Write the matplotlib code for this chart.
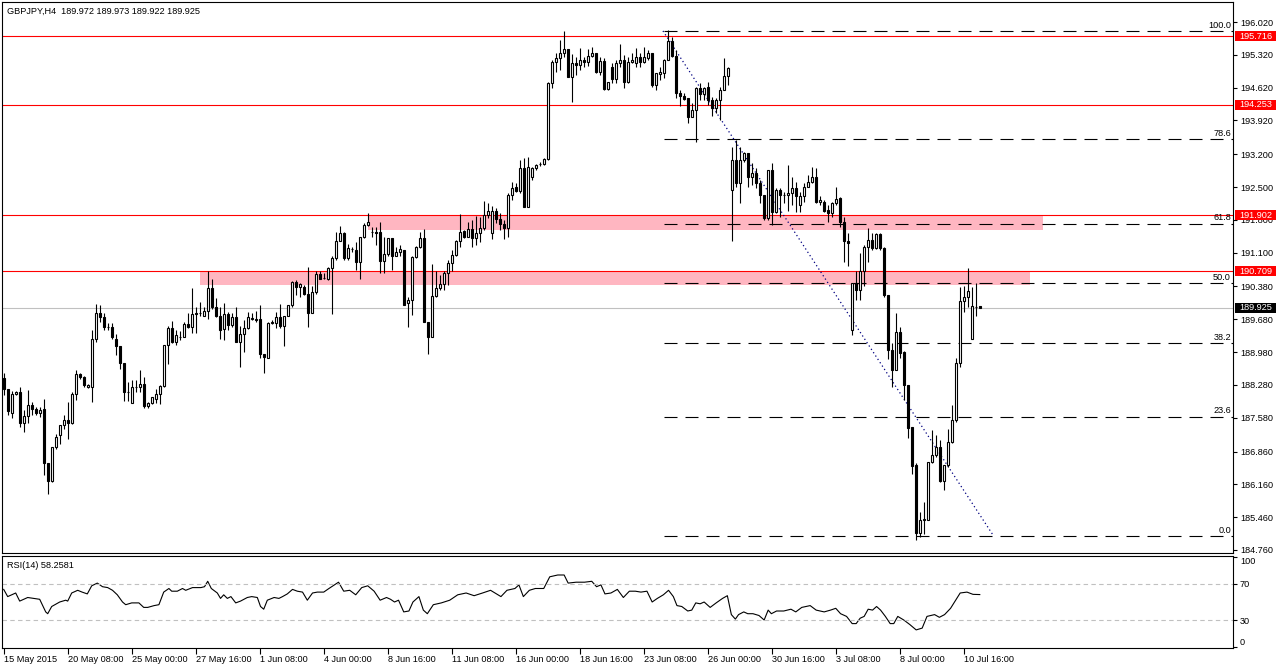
import numpy as np
import matplotlib
matplotlib.use("Agg")
import matplotlib.pyplot as plt
from matplotlib.patches import Rectangle

plt.rcParams['font.family'] = ['Liberation Sans', 'DejaVu Sans']
plt.rcParams['axes.linewidth'] = 0.8

# GBPJPY H4 candles (bar 0 = 15 May 2015 00:00)
opens = [
    188.42, 188.19, 187.68, 188.08, 188.12, 187.46, 187.62, 187.85, 187.76, 187.68,
    187.77, 186.62, 186.24, 186.95, 187.21, 187.42, 187.53, 187.46, 188.08, 188.51,
    188.46, 188.24, 188.24, 189.27, 189.81, 189.72, 189.52, 189.51, 189.27, 189.11,
    188.74, 188.12, 187.89, 188.23, 188.23, 188.29, 187.84, 187.89, 187.97, 188.08,
    188.25, 189.13, 189.49, 189.20, 189.31, 189.31, 189.59, 189.52, 189.81, 189.81,
    189.75, 189.85, 190.35, 189.94, 189.75, 189.47, 189.79, 189.56, 189.72, 189.20,
    189.36, 189.50, 189.70, 189.69, 189.68, 188.95, 188.86, 189.61, 189.61, 189.73,
    189.54, 189.76, 189.98, 190.48, 190.36, 190.37, 190.22, 189.82, 190.26, 190.65,
    190.57, 190.53, 190.77, 190.98, 191.36, 191.51, 190.98, 191.18, 191.16, 190.91,
    191.43, 191.69, 191.55, 191.54, 191.54, 190.93, 191.07, 191.41, 191.03, 191.12,
    191.16, 190.02, 190.09, 191.00, 191.23, 191.41, 189.62, 189.31, 190.18, 190.35,
    190.43, 190.67, 190.89, 191.05, 191.34, 191.57, 191.44, 191.60, 191.41, 191.53,
    191.62, 191.90, 191.51, 191.98, 191.81, 191.71, 191.62, 192.33, 192.51, 192.42,
    192.90, 192.08, 192.71, 192.90, 192.99, 192.99, 193.09, 194.73, 195.16, 195.25,
    195.37, 195.44, 194.84, 195.14, 195.11, 195.20, 195.17, 195.30, 195.35, 194.96,
    195.19, 194.59, 195.07, 194.80, 195.14, 195.22, 194.75, 195.17, 195.15, 195.28,
    195.17, 195.25, 195.35, 194.68, 194.91, 194.93, 195.22, 195.62, 195.30, 194.50,
    194.44, 194.39, 194.00, 194.14, 194.61, 194.49, 194.64, 194.36, 194.18, 194.36,
    194.58, 194.87, 192.44, 193.08, 192.58, 193.08, 193.22, 192.72, 192.79, 192.59,
    192.33, 191.83, 192.86, 191.97, 192.44, 192.33, 192.33, 192.37, 192.47, 192.12,
    192.31, 192.51, 192.61, 192.71, 192.19, 192.19, 192.01, 191.95, 192.15, 192.26,
    191.76, 191.34, 189.45, 190.46, 190.31, 190.70, 191.23, 191.38, 191.19, 191.49,
    191.21, 190.20, 189.02, 188.60, 189.40, 188.99, 188.28, 187.39, 186.57, 185.13,
    185.40, 185.41, 186.63, 186.79, 186.95, 186.24, 186.57, 187.06, 187.53, 188.74,
    190.06, 190.16, 189.27, 189.95, 189.972]

highs = [
    188.53, 188.19, 188.15, 188.15, 188.24, 187.75, 188.17, 187.92, 187.82, 187.80,
    187.97, 186.62, 186.96, 187.23, 187.43, 187.64, 187.92, 188.14, 188.60, 188.53,
    188.47, 188.30, 189.45, 190.01, 189.99, 189.81, 189.61, 189.61, 189.36, 189.11,
    188.74, 188.35, 188.39, 188.39, 188.60, 188.44, 187.92, 188.03, 188.19, 188.27,
    189.13, 189.54, 189.65, 189.45, 189.44, 189.62, 189.81, 190.34, 189.94, 190.04,
    189.95, 190.72, 190.55, 190.13, 189.95, 190.02, 189.84, 189.81, 189.95, 189.54,
    189.66, 189.83, 189.81, 189.86, 189.98, 188.95, 189.63, 189.66, 189.84, 190.01,
    189.76, 189.98, 190.50, 190.52, 190.45, 190.41, 190.80, 190.38, 190.70, 190.70,
    190.66, 190.80, 191.02, 191.55, 191.67, 191.55, 191.29, 191.23, 191.33, 191.43,
    191.74, 191.94, 191.65, 191.64, 191.75, 191.44, 191.42, 191.42, 191.23, 191.26,
    191.16, 190.16, 191.02, 191.24, 191.55, 191.60, 189.62, 190.87, 190.70, 190.62,
    190.70, 190.94, 191.16, 191.37, 191.93, 191.58, 191.76, 191.80, 191.88, 191.87,
    192.21, 192.17, 192.10, 192.05, 191.95, 191.80, 192.38, 192.61, 192.58, 193.08,
    193.13, 193.15, 192.93, 193.00, 193.04, 193.11, 194.75, 195.20, 195.35, 195.64,
    195.83, 195.44, 195.34, 195.28, 195.46, 195.28, 195.44, 195.48, 195.37, 195.28,
    195.25, 194.75, 195.14, 195.21, 195.55, 195.32, 195.28, 195.35, 195.46, 195.35,
    195.49, 195.42, 195.37, 194.93, 195.07, 195.24, 195.86, 195.71, 195.42, 194.58,
    194.50, 194.39, 194.30, 194.64, 194.73, 194.64, 194.75, 194.43, 194.39, 194.64,
    195.25, 195.07, 193.36, 193.50, 193.36, 193.25, 193.23, 193.01, 192.90, 192.65,
    192.33, 192.86, 193.02, 192.47, 192.47, 192.40, 192.97, 192.72, 192.61, 192.40,
    192.59, 192.76, 192.93, 192.90, 192.31, 192.22, 192.12, 192.19, 192.51, 192.29,
    191.87, 191.51, 190.46, 190.70, 191.09, 191.26, 191.62, 191.51, 191.53, 191.51,
    191.22, 190.20, 189.17, 189.81, 189.52, 189.00, 188.28, 187.39, 186.61, 185.58,
    185.79, 186.63, 187.32, 187.21, 187.10, 186.57, 187.35, 187.85, 188.85, 190.36,
    190.38, 190.77, 190.36, 190.45, 189.973]

lows = [
    188.07, 187.64, 187.57, 188.07, 187.39, 187.28, 187.46, 187.64, 187.64, 187.60,
    186.37, 185.95, 186.22, 186.91, 187.03, 187.35, 187.12, 187.44, 187.96, 188.41,
    188.24, 188.22, 187.92, 189.20, 189.63, 189.45, 189.45, 189.25, 188.92, 188.63,
    187.94, 187.94, 187.89, 188.12, 188.14, 187.78, 187.78, 187.87, 187.89, 187.87,
    188.24, 188.72, 189.17, 189.13, 189.24, 189.30, 189.50, 189.38, 189.38, 189.74,
    189.74, 189.68, 189.89, 189.72, 189.27, 189.24, 189.45, 189.52, 189.20, 188.67,
    188.99, 189.47, 189.67, 189.63, 188.85, 188.53, 188.85, 189.59, 189.50, 189.50,
    189.10, 189.74, 189.95, 190.20, 190.16, 190.20, 189.51, 189.82, 190.23, 190.53,
    190.53, 190.52, 189.79, 190.94, 191.34, 190.94, 190.94, 191.12, 190.73, 190.55,
    191.41, 191.67, 191.44, 191.26, 190.66, 190.66, 191.03, 190.74, 191.02, 191.02,
    189.98, 189.51, 189.77, 190.98, 191.21, 189.62, 188.95, 189.31, 190.16, 190.30,
    190.30, 190.41, 190.70, 191.02, 191.23, 191.41, 191.43, 191.23, 191.26, 191.33,
    191.58, 191.83, 191.40, 191.73, 191.59, 191.39, 191.43, 192.22, 192.40, 192.37,
    192.07, 192.08, 192.65, 192.86, 192.95, 192.97, 193.08, 194.61, 194.96, 195.00,
    195.28, 194.84, 194.32, 194.89, 195.00, 195.07, 195.08, 195.27, 194.93, 194.89,
    194.57, 194.57, 194.71, 194.71, 195.07, 194.61, 194.71, 195.14, 195.07, 195.07,
    195.14, 195.21, 194.64, 194.57, 194.78, 194.82, 195.21, 195.28, 194.39, 194.23,
    194.36, 193.86, 194.00, 193.47, 194.36, 194.36, 194.25, 194.02, 194.07, 193.93,
    194.57, 194.68, 191.34, 192.51, 192.15, 193.04, 192.51, 192.54, 192.47, 192.15,
    191.80, 191.80, 191.69, 191.94, 191.87, 192.15, 191.99, 192.12, 191.97, 191.97,
    192.19, 192.51, 192.58, 192.15, 192.12, 191.97, 191.76, 191.87, 192.12, 191.65,
    190.91, 190.82, 189.34, 190.09, 190.09, 190.38, 190.91, 191.16, 191.17, 191.16,
    190.16, 188.83, 188.24, 188.60, 188.85, 187.96, 187.14, 186.39, 184.97, 185.03,
    185.11, 185.41, 186.61, 186.75, 186.22, 186.05, 186.54, 187.04, 187.50, 188.67,
    189.84, 189.95, 189.25, 189.74, 189.922]

closes = [
    188.19, 187.73, 188.08, 188.12, 187.46, 187.62, 187.85, 187.76, 187.68, 187.74,
    186.61, 186.24, 186.95, 187.16, 187.42, 187.53, 187.46, 188.08, 188.51, 188.44,
    188.27, 188.27, 189.27, 189.81, 189.72, 189.51, 189.51, 189.30, 189.10, 188.74,
    188.12, 188.12, 188.23, 188.24, 188.29, 187.84, 187.89, 188.02, 188.08, 188.25,
    189.13, 189.49, 189.20, 189.35, 189.30, 189.59, 189.52, 189.79, 189.80, 189.81,
    189.85, 190.35, 189.94, 189.74, 189.45, 189.79, 189.56, 189.72, 189.20, 189.36,
    189.50, 189.72, 189.69, 189.66, 188.95, 188.87, 189.61, 189.62, 189.73, 189.54,
    189.76, 189.98, 190.48, 190.36, 190.44, 190.22, 189.82, 190.26, 190.65, 190.55,
    190.57, 190.77, 190.98, 191.36, 191.51, 190.98, 191.19, 191.18, 190.91, 191.43,
    191.69, 191.76, 191.55, 191.51, 190.93, 191.07, 191.41, 191.03, 191.12, 191.17,
    189.99, 190.09, 191.00, 191.23, 191.42, 189.62, 189.31, 190.18, 190.35, 190.43,
    190.67, 190.89, 191.05, 191.34, 191.54, 191.44, 191.60, 191.41, 191.53, 191.62,
    191.90, 191.99, 191.99, 191.81, 191.71, 191.62, 192.33, 192.49, 192.42, 192.90,
    192.08, 192.93, 192.90, 192.97, 192.99, 193.09, 194.73, 195.16, 195.25, 195.37,
    195.44, 194.84, 195.14, 195.11, 195.20, 195.17, 195.30, 195.35, 194.96, 195.19,
    194.59, 194.75, 194.80, 195.14, 195.22, 194.75, 195.17, 195.20, 195.28, 195.17,
    195.27, 195.35, 194.68, 194.93, 194.96, 195.22, 195.62, 195.30, 194.50, 194.44,
    194.38, 194.00, 194.14, 194.61, 194.49, 194.61, 194.36, 194.18, 194.36, 194.58,
    194.87, 195.05, 193.08, 192.58, 193.08, 193.22, 192.72, 192.79, 192.59, 192.33,
    191.83, 192.86, 191.97, 192.44, 192.33, 192.33, 192.37, 192.47, 192.31, 192.31,
    192.51, 192.61, 192.71, 192.19, 192.22, 191.99, 191.95, 192.15, 192.24, 191.76,
    191.34, 191.31, 190.46, 190.31, 190.70, 191.23, 191.38, 191.19, 191.49, 191.19,
    190.20, 189.02, 188.60, 189.40, 188.97, 188.28, 187.37, 186.56, 185.13, 185.40,
    185.43, 186.63, 186.79, 186.95, 186.24, 186.57, 187.06, 187.53, 188.74, 190.06,
    190.16, 190.29, 189.96, 189.94, 189.925]

# RSI(14) readings: bar position and value
rsi_bar = [
    0, 1, 2, 3, 4, 5.5, 6, 7.5, 9, 10.5, 11, 12, 14, 15.5, 16, 17, 18.5, 19.6, 20.9, 22,
    23.4, 24.7, 26, 27.2, 28.4, 29.7, 30.5, 32, 33.8, 35, 36, 37.6, 38.8, 40, 41.3, 42,
    43.4, 44.7, 45.5, 47.2, 49.3, 50.2, 51, 51.9, 53.4, 54.2, 55, 55.9, 56.8, 58, 59.2,
    60.9, 62, 63.4, 64.2, 65, 65.9, 67.6, 68.8, 69.7, 70.9, 72.2, 73.4, 74.7, 75.9, 77.2,
    78.4, 80, 81.3,
    83.7, 85, 86.5, 88, 89.5, 91, 92.6, 94.1, 95.7, 96.7, 97.7, 98.7, 100, 101.3, 102.3,
    103.8, 104.9, 105.9, 107.4, 109.4, 111.5, 113.5, 115.6, 117.6, 119.7, 121.7, 124.3,
    125.8, 127.8, 128.8, 129.9, 131.4, 132.9, 135, 136.5, 138.5, 140.1, 141.1, 143.1,
    145.2, 147, 148.2, 149.3, 150.3, 151.8, 153.4, 154.9, 156.4, 157.9,
    159.3, 160.8, 162.1, 163.4, 164.9, 166.2, 167.4, 168.3, 169.5, 171, 172, 173, 174.1,
    175.1, 176.6, 178.1, 179.7, 180.9, 181.9, 182.9, 183.7, 185, 186, 187.3, 188.8, 190.1,
    191.1, 191.9, 193.2, 195, 196.8, 198, 199.5, 201.6, 203.1, 205.1, 206.7, 208, 209.2,
    210.7, 212.1, 213.1, 214.1, 215.1, 216.1, 217.2, 218.2, 219.2, 220.4, 221.6, 222.5,
    223.5, 225, 226.5, 228.1, 229.6, 230.8, 232.7, 233.9, 235.2, 236.7, 237.7, 239.1,
    240.8, 242.3, 244]
rsi_val = [
    64, 56, 58, 60, 51, 54, 55, 54, 53, 39, 37, 45, 50, 52, 51, 60, 63, 61, 59, 68,
    71, 67, 66, 63, 58, 50, 47, 49, 49, 44, 44, 46, 47, 61, 65, 62, 62, 65, 63, 66,
    66, 67, 73, 65, 60, 54, 58, 54, 56, 49, 51, 55, 56, 55, 45, 42, 52, 55, 54, 56,
    59, 64, 62, 61, 52, 60, 61, 61, 65,
    72, 62, 63, 58, 66, 68, 62, 52, 55, 53, 50, 52, 39, 40, 50, 56, 41, 37, 47, 49,
    52, 58, 60, 57, 60, 63, 56, 63, 65, 69, 56, 63, 65, 65, 78, 80, 80, 71, 72, 72,
    73, 67, 69, 59, 60, 64, 55, 62, 62,
    61, 62, 50, 54, 58, 63, 56, 46, 45, 40, 41, 49, 48, 50, 44, 49, 54, 57, 36, 31,
    36, 39, 37, 37, 35, 30, 41, 37, 40, 40, 42, 39, 44, 46, 41, 39, 41, 43, 37, 34,
    26, 26, 32, 34, 42, 41, 45, 41, 34, 26, 26, 34, 30, 25, 19, 21, 34, 36, 33, 36,
    43, 50, 60, 61, 58.5, 58.2581]

date_labels = ["15 May 2015", "20 May 08:00", "25 May 00:00", "27 May 16:00", "1 Jun 08:00",
               "4 Jun 00:00", "8 Jun 16:00", "11 Jun 08:00", "16 Jun 00:00", "18 Jun 16:00",
               "23 Jun 08:00", "26 Jun 00:00", "30 Jun 16:00", "3 Jul 08:00", "8 Jul 00:00",
               "10 Jul 16:00"]
price_ticks = [196.020, 195.320, 194.620, 193.920, 193.200, 192.500, 191.800, 191.100,
               190.380, 189.680, 188.980, 188.280, 187.580, 186.860, 186.160, 185.460, 184.760]

red_levels = [195.716, 194.253, 191.902, 190.709]
bid = 189.925
fib_high, fib_low = 195.83, 185.06
fib_levels = [0.0, 23.6, 38.2, 50.0, 61.8, 78.6, 100.0]

W, H = 1276, 666


def frac(x0, y0, x1, y1):
    # pixel box (top-left origin) -> figure fraction rect
    return [x0 / W, 1 - y1 / H, (x1 - x0) / W, (y1 - y0) / H]


fig = plt.figure(figsize=(W / 100, H / 100), dpi=100)
ax = fig.add_axes(frac(2.5, 2, 1233, 553))
rax = fig.add_axes(frac(2.5, 556, 1233, 648), sharex=ax)

x = np.arange(len(closes))
o, h, l, c = map(np.array, (opens, highs, lows, closes))
up = c >= o
lo = np.minimum(o, c)
ht = np.abs(c - o)

x_right = 307.3
ax.set_xlim(-0.3, x_right)
ax.set_ylim(184.696, 196.447)

# zones and lines
ax.add_patch(Rectangle((91, 191.59), 259.8 - 91, 191.90 - 191.59, fc='#FFB6C1', ec='none', zorder=0.5))
ax.add_patch(Rectangle((49, 190.42), 256.6 - 49, 190.71 - 190.42, fc='#FFB6C1', ec='none', zorder=0.5))
for lv in red_levels:
    ax.axhline(lv, color='red', lw=0.8, zorder=1)
ax.axhline(bid, color='#C0C0C0', lw=0.8, zorder=1)

ytr = ax.get_yaxis_transform()
for pct in fib_levels:
    lv = fib_low + (fib_high - fib_low) * pct / 100
    ax.plot([165, x_right], [lv, lv], color='black', lw=0.8, dashes=(11.7, 7.2), zorder=1.5)
    ax.text(0.9984, lv + 0.03, f"{pct:.1f}", transform=ytr, ha='right', va='bottom', fontsize=6.6)
ax.plot([164.8, 247.3], [fib_high, 185.08], color='#000080', lw=0.9, dashes=(1, 2.2), zorder=1.6)

# candles
ax.vlines(x, l, h, color='black', lw=0.8, zorder=3)
ax.bar(x[up], ht[up], bottom=lo[up], width=0.55, color='white', edgecolor='black', linewidth=0.8, zorder=4)
ax.bar(x[~up], ht[~up], bottom=lo[~up], width=0.55, color='black', edgecolor='black', linewidth=0.8, zorder=4)

ax.yaxis.tick_right()
ax.set_yticks(price_ticks)
ax.set_yticklabels([f"{v:.3f}" for v in price_ticks])
ax.tick_params(axis='y', length=3, width=0.8, pad=2, labelsize=6.6)
ax.tick_params(axis='x', bottom=False, labelbottom=False)

# price labels on the scale
hh = 5 / 46.89
for lv, bg in [(v, 'red') for v in red_levels] + [(bid, 'black')]:
    ax.add_patch(Rectangle((1.0016, lv - hh), 0.0333, 2 * hh, transform=ytr, fc=bg, ec='none',
                           clip_on=False, zorder=10))
    ax.text(1.0053, lv, f"{lv:.3f}", transform=ytr, color='white', va='center', ha='left',
            fontsize=6.6, zorder=11, clip_on=False)

fig.text(7 / W, 1 - 11 / H, "GBPJPY,H4  189.972 189.973 189.922 189.925", fontsize=6.6, va='center')

# RSI panel
rax.plot(rsi_bar, rsi_val, color='black', lw=0.8)
for lv in (70, 30):
    rax.axhline(lv, color='#C0C0C0', lw=0.8, dashes=(4, 3))
rax.set_ylim(-1.1, 101.1)
rax.yaxis.tick_right()
rax.set_yticks([100, 70, 30, 0])
rax.set_yticklabels(["100", "70", "30", "0"])
rax.tick_params(axis='y', length=3, width=0.8, pad=2, labelsize=6.6)
ylabs = rax.get_yticklabels()
ylabs[0].set_va('top')
ylabs[-1].set_va('bottom')
rax.set_xticks(np.arange(len(date_labels)) * 16)
rax.set_xticklabels(date_labels)
rax.tick_params(axis='x', length=4, width=0.8, pad=1, labelsize=6.6)
for t in rax.get_xticklabels():
    t.set_ha('left')
fig.text(7 / W, 1 - 565 / H, "RSI(14) 58.2581", fontsize=6.6, va='center')

fig.savefig("out.png", dpi=100)
